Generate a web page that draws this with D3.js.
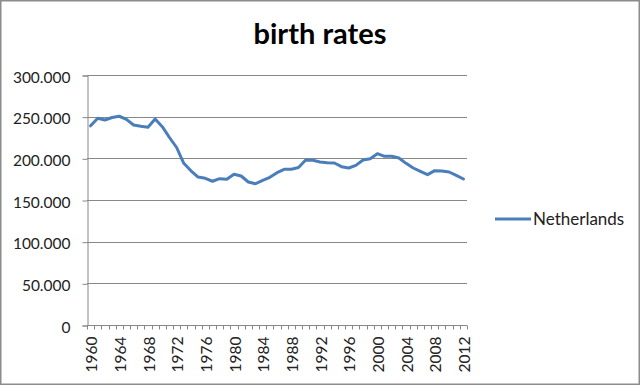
<!DOCTYPE html>
<html>
<head>
<meta charset="utf-8">
<script src="https://cdn.jsdelivr.net/npm/d3@7/dist/d3.min.js"></script>
<style>
  body { margin: 0; background: #fff; }
  svg { display: block; }
</style>
</head>
<body>
<svg width="640" height="385"></svg>
<script>
// birth counts per year
const years = d3.range(1960, 2013);
const births = [
  239000, 248000, 246000, 249000, 250500, 246800, 240000, 238500, 237200, 247200,
  238000, 225000, 213000, 194000, 185000, 177500, 176000, 172500, 175600, 174800,
  180800, 178800, 171600, 169500, 173600, 177200, 182800, 186800, 187000, 189000,
  198000, 197600, 195600, 194800, 194400, 190000, 188400, 191600, 198000, 199600,
  205600, 202400, 202400, 200400, 194000, 188400, 184400, 180400, 185200, 184800,
  183600, 179600, 175200
];
const yTicks = [0, 50000, 100000, 150000, 200000, 250000, 300000];
const seriesName = 'Netherlands';

const svg = d3.select('svg');
const width = +svg.attr('width');
const height = +svg.attr('height');
const margin = { left: 87, right: 173, top: 75, bottom: 60 };
const font = 'Lato, "Open Sans", sans-serif';

// dutch style grouping: 300.000
const nl = d3.formatLocale({ decimal: ',', thousands: '.', grouping: [3], currency: ['€', ''] });
const fmt = nl.format(',d');

// outer border
svg.append('rect')
  .attr('x', 0.75).attr('y', 0.75)
  .attr('width', width - 1.5).attr('height', height - 1.5)
  .attr('fill', '#fff')
  .attr('stroke', '#8c8c8c')
  .attr('stroke-width', 1.5);

svg.append('text')
  .attr('x', 320)
  .attr('y', 44)
  .attr('text-anchor', 'middle')
  .style('font-family', font)
  .style('font-weight', 'bold')
  .style('font-size', '29px')
  .attr('fill', '#000')
  .text('birth rates');

const x = d3.scaleBand()
  .domain(years)
  .range([margin.left, width - margin.right]);
const y = d3.scaleLinear()
  .domain([0, 300000])
  .range([height - margin.bottom, margin.top]);

// gridlines
svg.append('g')
  .selectAll('line')
  .data(yTicks.filter(d => d > 0))
  .enter().append('line')
  .attr('x1', margin.left)
  .attr('x2', width - margin.right)
  .attr('y1', d => Math.round(y(d)) + 0.5)
  .attr('y2', d => Math.round(y(d)) + 0.5)
  .attr('stroke', '#888')
  .attr('stroke-width', 1);

// y axis
const yAxis = svg.append('g')
  .attr('transform', `translate(${margin.left + 0.5},0.5)`)
  .call(d3.axisLeft(y).tickValues(yTicks).tickSize(5).tickPadding(12)
    .tickFormat(d => fmt(d)));
yAxis.select('.domain').attr('stroke', '#888');
yAxis.selectAll('.tick line').attr('stroke', '#888');
yAxis.selectAll('text')
  .attr('dy', '0.42em')
  .style('font-family', font)
  .style('font-size', '15.5px')
  .attr('fill', '#222');

// x axis, ticks between categories
const xg = svg.append('g')
  .attr('transform', `translate(0,${Math.round(y(0)) + 0.5})`);
xg.append('line')
  .attr('x1', margin.left).attr('x2', width - margin.right)
  .attr('stroke', '#888');
xg.selectAll('.tk')
  .data(years.concat([2013]))
  .enter().append('line')
  .attr('class', 'tk')
  .attr('x1', d => Math.round(d === 2013 ? x.range()[1] : x(d)) + 0.5)
  .attr('x2', d => Math.round(d === 2013 ? x.range()[1] : x(d)) + 0.5)
  .attr('y1', 0).attr('y2', 4)
  .attr('stroke', '#888');
xg.selectAll('.lbl')
  .data(years.filter(d => (d - 1960) % 4 === 0))
  .enter().append('text')
  .attr('class', 'lbl')
  .attr('transform', d => `translate(${x(d) + x.bandwidth() / 2 + 1},11) rotate(-90)`)
  .attr('text-anchor', 'end')
  .attr('dy', '0.36em')
  .style('font-family', font)
  .style('font-size', '15.5px')
  .attr('fill', '#222')
  .text(d => d);

// series line
const line = d3.line()
  .x((d, i) => x(years[i]) + x.bandwidth() / 2)
  .y(d => y(d));
svg.append('path')
  .datum(births)
  .attr('d', line)
  .attr('fill', 'none')
  .attr('stroke', '#4a7ebb')
  .attr('stroke-width', 3)
  .attr('stroke-linejoin', 'round')
  .attr('stroke-linecap', 'round');

// legend
const lg = svg.append('g').attr('transform', 'translate(495,219)');
lg.append('line')
  .attr('x1', 0).attr('x2', 36)
  .attr('stroke', '#4a7ebb')
  .attr('stroke-width', 3);
lg.append('text')
  .attr('x', 38).attr('y', 0)
  .attr('dy', '0.36em')
  .style('font-family', font)
  .style('font-size', '17px')
  .attr('fill', '#222')
  .text(seriesName);
</script>
</body>
</html>
